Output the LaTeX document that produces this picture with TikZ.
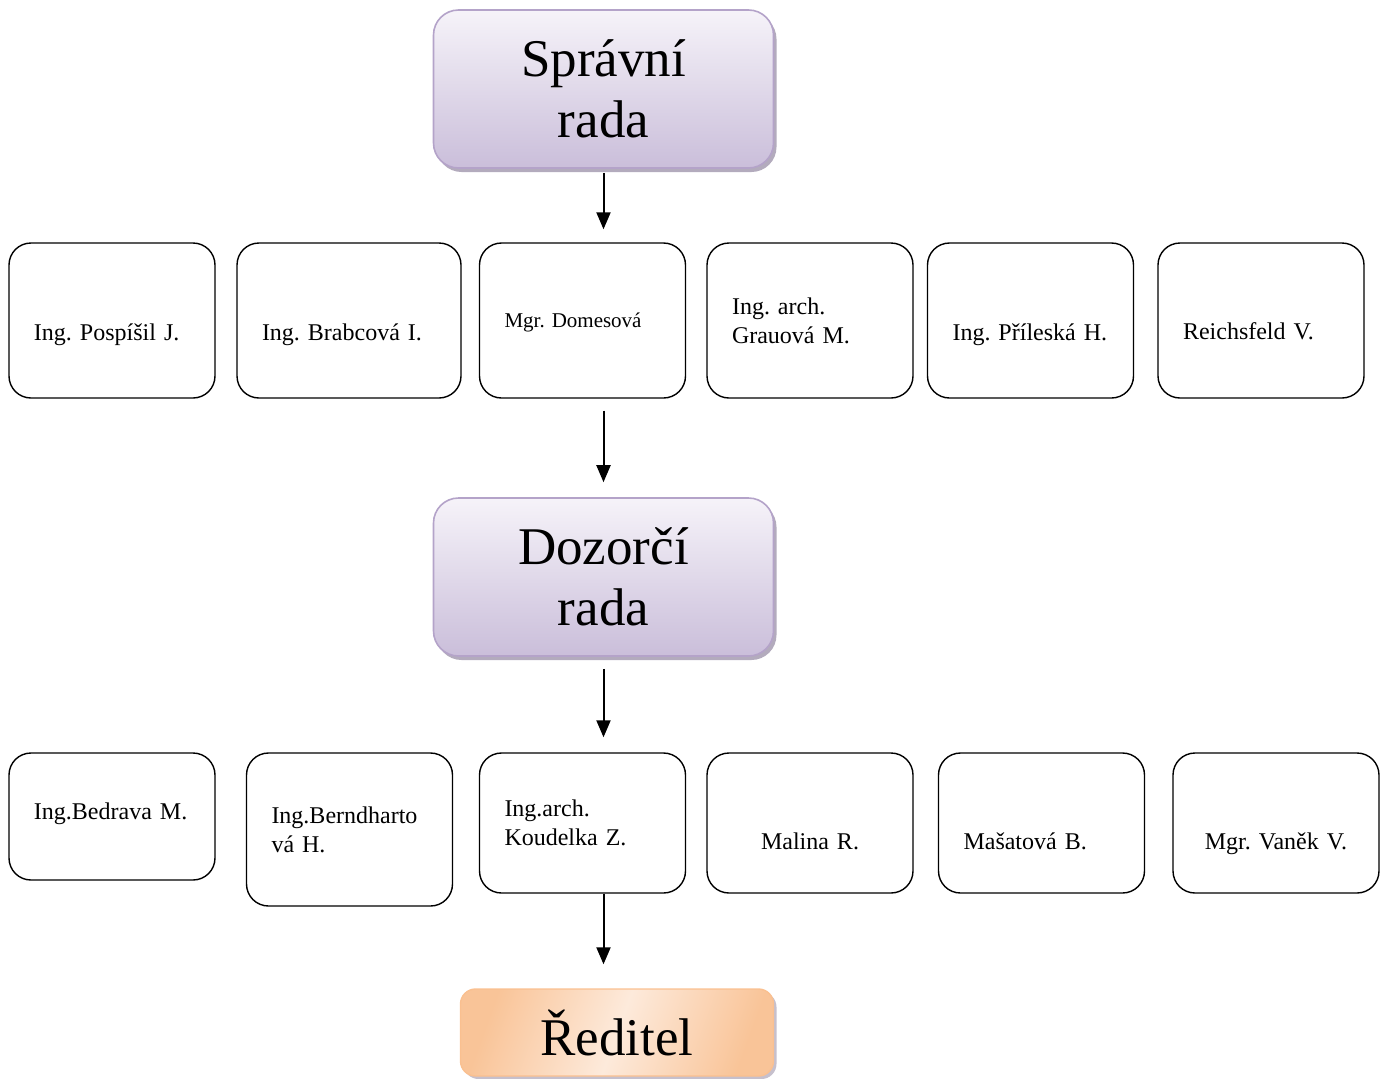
\documentclass[tikz,border=0pt]{standalone}
\usepackage{fontspec}
\setmainfont{Liberation Serif}
\usepackage{tikz}
\usepackage{xcolor}
\usetikzlibrary{positioning,arrows.meta,calc,shadows}
\definecolor{boardline}{RGB}{180,163,201}
\definecolor{boardtop}{RGB}{246,243,249}
\definecolor{boardbot}{RGB}{202,190,218}
\definecolor{boardshadow}{RGB}{160,150,172}
\definecolor{headline}{RGB}{250,192,144}
\definecolor{headlight}{RGB}{253,234,219}
\definecolor{headdark}{RGB}{249,196,152}
\frenchspacing

\begin{document}
\begin{tikzpicture}[x=1pt, y=-1pt,
    member/.style={draw, line width=1.4pt, rounded corners=22pt,
      align=left, inner xsep=25pt, inner ysep=0pt, text width=156pt,
      minimum height=140pt, font=\fontsize{24}{29}\selectfont},
    low/.style={text height=#1, text depth=6pt},
    board/.style={draw=boardline, line width=1.6pt, rounded corners=25pt,
      top color=boardtop, bottom color=boardbot,
      drop shadow={shadow xshift=3pt, shadow yshift=-4pt, fill=boardshadow, opacity=0.8},
      minimum width=340pt, minimum height=158pt, align=center,
      font=\fontsize{53}{61}\selectfont},
    link/.style={line width=2pt, -{Triangle[length=17pt,width=14pt]}}]
  \useasboundingbox (0,0) rectangle (1387,1079);

  % supervisory and managing boards
  \node[board] (sprava) at (603.5,89) {Správní\\rada};
  \node[board] (dozor) at (603.5,577) {Dozorčí\\rada};

  % first row of members
  \node[member, minimum height=155pt, low=45pt] (r1a) at (112,320.5) {Ing. Pospíšil J.};
  \node[member, minimum height=155pt, low=45pt, text width=174pt] (r1b) at (349,320.5) {Ing. Brabcová I.};
  \node[member, minimum height=155pt, low=19pt, font=\fontsize{21}{26}\selectfont] (r1c) at (582.5,320.5) {Mgr. Domesová};
  \node[member, minimum height=155pt] (r1d) at (810,320.5) {Ing. arch.\\Grauová M.};
  \node[member, minimum height=155pt, low=45pt] (r1e) at (1030.5,320.5) {Ing. Příleská H.};
  \node[member, minimum height=155pt, low=44pt] (r1f) at (1261,320.5) {Reichsfeld V.};

  % second row of members
  \node[member, minimum height=127pt, low=11pt] (r2a) at (112,816.5) {Ing.Bedrava M.};
  \node[member, minimum height=153pt] (r2b) at (349.5,829.5) {Ing.Berndharto\\vá H.};
  \node[member] (r2c) at (582.5,823) {Ing.arch.\\Koudelka Z.};
  \node[member, low=58pt, align=center] (r2d) at (810,823) {Malina R.};
  \node[member, low=58pt] (r2e) at (1041.5,823) {Mašatová B.};
  \node[member, low=58pt, align=center] (r2f) at (1276,823) {Mgr. Vaněk V.};

  % director
  \node[draw=headline, line width=1.4pt, rounded corners=15pt,
        left color=headdark, right color=headdark, middle color=headlight, shading angle=70,
        drop shadow={shadow xshift=3pt, shadow yshift=-3pt, fill=boardshadow, opacity=0.6},
        minimum width=313pt, minimum height=87pt,
        font=\fontsize{53}{61}\selectfont] (reditel) at (617,1032.5) {Ředitel};

  % arrows
  \draw[link, shorten <=4pt, shorten >=13pt] (sprava.south) -- (sprava.south |- r1c.north);
  \draw[link, shorten <=12pt, shorten >=15pt] (dozor.north |- r1c.south) -- (dozor.north);
  \draw[link, shorten <=12pt, shorten >=15pt] (dozor.south) -- (dozor.south |- r2c.north);
  \draw[link, shorten >=24pt] (dozor.south |- r2c.south) -- (dozor.south |- reditel.north);
\end{tikzpicture}
\end{document}
